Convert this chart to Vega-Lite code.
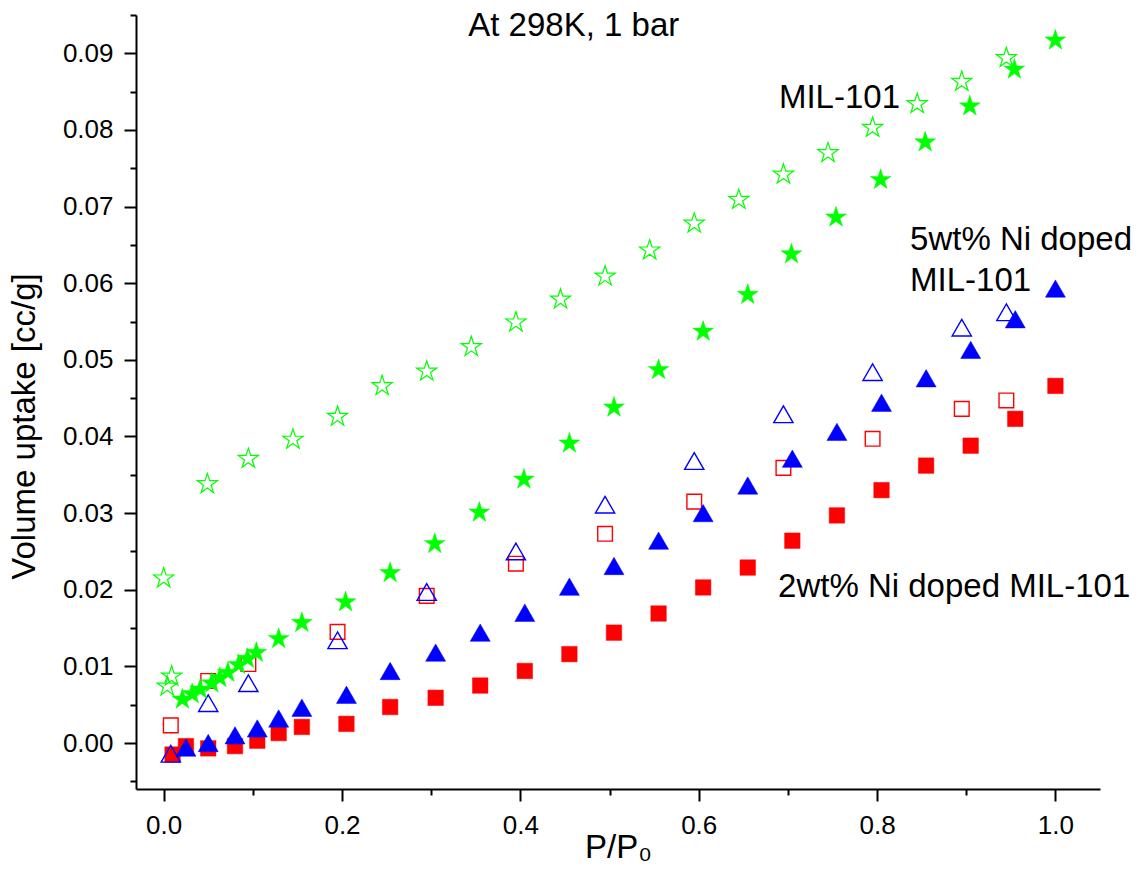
{
  "$schema": "https://vega.github.io/schema/vega-lite/v6.json",
  "width": 964,
  "height": 774,
  "autosize": {"type": "none"},
  "padding": {"left": 136, "top": 15, "right": 42, "bottom": 80},
  "background": "white",
  "config": {"view": {"stroke": null}, "font": "Liberation Sans"},
  "datasets": {
    "isotherms": [
      {"p": 0.010, "v": -0.0015, "s": "Ni2 adsorption"},
      {"p": 0.025, "v": -0.0004, "s": "Ni2 adsorption"},
      {"p": 0.050, "v": -0.0007, "s": "Ni2 adsorption"},
      {"p": 0.080, "v": -0.0004, "s": "Ni2 adsorption"},
      {"p": 0.105, "v": 0.0003, "s": "Ni2 adsorption"},
      {"p": 0.129, "v": 0.0013, "s": "Ni2 adsorption"},
      {"p": 0.155, "v": 0.0021, "s": "Ni2 adsorption"},
      {"p": 0.205, "v": 0.0025, "s": "Ni2 adsorption"},
      {"p": 0.254, "v": 0.0047, "s": "Ni2 adsorption"},
      {"p": 0.305, "v": 0.0059, "s": "Ni2 adsorption"},
      {"p": 0.355, "v": 0.0075, "s": "Ni2 adsorption"},
      {"p": 0.405, "v": 0.0094, "s": "Ni2 adsorption"},
      {"p": 0.455, "v": 0.0116, "s": "Ni2 adsorption"},
      {"p": 0.505, "v": 0.0144, "s": "Ni2 adsorption"},
      {"p": 0.555, "v": 0.0169, "s": "Ni2 adsorption"},
      {"p": 0.605, "v": 0.0203, "s": "Ni2 adsorption"},
      {"p": 0.655, "v": 0.0229, "s": "Ni2 adsorption"},
      {"p": 0.705, "v": 0.0264, "s": "Ni2 adsorption"},
      {"p": 0.755, "v": 0.0297, "s": "Ni2 adsorption"},
      {"p": 0.805, "v": 0.0330, "s": "Ni2 adsorption"},
      {"p": 0.855, "v": 0.0362, "s": "Ni2 adsorption"},
      {"p": 0.905, "v": 0.0388, "s": "Ni2 adsorption"},
      {"p": 0.955, "v": 0.0423, "s": "Ni2 adsorption"},
      {"p": 1.000, "v": 0.0466, "s": "Ni2 adsorption"},

      {"p": 0.008, "v": 0.0023, "s": "Ni2 desorption"},
      {"p": 0.050, "v": 0.0081, "s": "Ni2 desorption"},
      {"p": 0.095, "v": 0.0103, "s": "Ni2 desorption"},
      {"p": 0.195, "v": 0.0145, "s": "Ni2 desorption"},
      {"p": 0.295, "v": 0.0192, "s": "Ni2 desorption"},
      {"p": 0.395, "v": 0.0234, "s": "Ni2 desorption"},
      {"p": 0.495, "v": 0.0273, "s": "Ni2 desorption"},
      {"p": 0.595, "v": 0.0315, "s": "Ni2 desorption"},
      {"p": 0.695, "v": 0.0359, "s": "Ni2 desorption"},
      {"p": 0.795, "v": 0.0397, "s": "Ni2 desorption"},
      {"p": 0.895, "v": 0.0436, "s": "Ni2 desorption"},
      {"p": 0.945, "v": 0.0447, "s": "Ni2 desorption"},

      {"p": 0.025, "v": -0.0006, "s": "Ni5 adsorption"},
      {"p": 0.050, "v": 0.0000, "s": "Ni5 adsorption"},
      {"p": 0.080, "v": 0.0010, "s": "Ni5 adsorption"},
      {"p": 0.105, "v": 0.0019, "s": "Ni5 adsorption"},
      {"p": 0.129, "v": 0.0032, "s": "Ni5 adsorption"},
      {"p": 0.155, "v": 0.0046, "s": "Ni5 adsorption"},
      {"p": 0.205, "v": 0.0063, "s": "Ni5 adsorption"},
      {"p": 0.254, "v": 0.0094, "s": "Ni5 adsorption"},
      {"p": 0.305, "v": 0.0118, "s": "Ni5 adsorption"},
      {"p": 0.355, "v": 0.0144, "s": "Ni5 adsorption"},
      {"p": 0.405, "v": 0.0170, "s": "Ni5 adsorption"},
      {"p": 0.455, "v": 0.0204, "s": "Ni5 adsorption"},
      {"p": 0.505, "v": 0.0231, "s": "Ni5 adsorption"},
      {"p": 0.555, "v": 0.0264, "s": "Ni5 adsorption"},
      {"p": 0.605, "v": 0.0300, "s": "Ni5 adsorption"},
      {"p": 0.655, "v": 0.0336, "s": "Ni5 adsorption"},
      {"p": 0.705, "v": 0.0371, "s": "Ni5 adsorption"},
      {"p": 0.755, "v": 0.0406, "s": "Ni5 adsorption"},
      {"p": 0.805, "v": 0.0444, "s": "Ni5 adsorption"},
      {"p": 0.855, "v": 0.0476, "s": "Ni5 adsorption"},
      {"p": 0.905, "v": 0.0513, "s": "Ni5 adsorption"},
      {"p": 0.955, "v": 0.0553, "s": "Ni5 adsorption"},
      {"p": 1.000, "v": 0.0593, "s": "Ni5 adsorption"},

      {"p": 0.008, "v": -0.0014, "s": "Ni5 desorption"},
      {"p": 0.050, "v": 0.0052, "s": "Ni5 desorption"},
      {"p": 0.095, "v": 0.0078, "s": "Ni5 desorption"},
      {"p": 0.195, "v": 0.0134, "s": "Ni5 desorption"},
      {"p": 0.295, "v": 0.0197, "s": "Ni5 desorption"},
      {"p": 0.395, "v": 0.0250, "s": "Ni5 desorption"},
      {"p": 0.495, "v": 0.0311, "s": "Ni5 desorption"},
      {"p": 0.595, "v": 0.0368, "s": "Ni5 desorption"},
      {"p": 0.695, "v": 0.0429, "s": "Ni5 desorption"},
      {"p": 0.795, "v": 0.0484, "s": "Ni5 desorption"},
      {"p": 0.895, "v": 0.0542, "s": "Ni5 desorption"},
      {"p": 0.945, "v": 0.0562, "s": "Ni5 desorption"},

      {"p": 0.000, "v": 0.0215, "s": "MIL-101 desorption"},
      {"p": 0.009, "v": 0.0087, "s": "MIL-101 desorption"},
      {"p": 0.004, "v": 0.0074, "s": "MIL-101 desorption"},
      {"p": 0.049, "v": 0.0338, "s": "MIL-101 desorption"},
      {"p": 0.095, "v": 0.0371, "s": "MIL-101 desorption"},
      {"p": 0.145, "v": 0.0396, "s": "MIL-101 desorption"},
      {"p": 0.195, "v": 0.0426, "s": "MIL-101 desorption"},
      {"p": 0.245, "v": 0.0466, "s": "MIL-101 desorption"},
      {"p": 0.295, "v": 0.0485, "s": "MIL-101 desorption"},
      {"p": 0.345, "v": 0.0517, "s": "MIL-101 desorption"},
      {"p": 0.395, "v": 0.0549, "s": "MIL-101 desorption"},
      {"p": 0.445, "v": 0.0579, "s": "MIL-101 desorption"},
      {"p": 0.495, "v": 0.0609, "s": "MIL-101 desorption"},
      {"p": 0.545, "v": 0.0643, "s": "MIL-101 desorption"},
      {"p": 0.595, "v": 0.0678, "s": "MIL-101 desorption"},
      {"p": 0.645, "v": 0.0709, "s": "MIL-101 desorption"},
      {"p": 0.695, "v": 0.0742, "s": "MIL-101 desorption"},
      {"p": 0.745, "v": 0.0770, "s": "MIL-101 desorption"},
      {"p": 0.795, "v": 0.0803, "s": "MIL-101 desorption"},
      {"p": 0.845, "v": 0.0834, "s": "MIL-101 desorption"},
      {"p": 0.895, "v": 0.0863, "s": "MIL-101 desorption"},
      {"p": 0.945, "v": 0.0894, "s": "MIL-101 desorption"},

      {"p": 0.021, "v": 0.0057, "s": "MIL-101 adsorption"},
      {"p": 0.032, "v": 0.0064, "s": "MIL-101 adsorption"},
      {"p": 0.041, "v": 0.0070, "s": "MIL-101 adsorption"},
      {"p": 0.054, "v": 0.0078, "s": "MIL-101 adsorption"},
      {"p": 0.063, "v": 0.0085, "s": "MIL-101 adsorption"},
      {"p": 0.072, "v": 0.0092, "s": "MIL-101 adsorption"},
      {"p": 0.084, "v": 0.0102, "s": "MIL-101 adsorption"},
      {"p": 0.094, "v": 0.0110, "s": "MIL-101 adsorption"},
      {"p": 0.104, "v": 0.0118, "s": "MIL-101 adsorption"},
      {"p": 0.129, "v": 0.0136, "s": "MIL-101 adsorption"},
      {"p": 0.155, "v": 0.0157, "s": "MIL-101 adsorption"},
      {"p": 0.204, "v": 0.0184, "s": "MIL-101 adsorption"},
      {"p": 0.254, "v": 0.0222, "s": "MIL-101 adsorption"},
      {"p": 0.304, "v": 0.0260, "s": "MIL-101 adsorption"},
      {"p": 0.354, "v": 0.0301, "s": "MIL-101 adsorption"},
      {"p": 0.404, "v": 0.0344, "s": "MIL-101 adsorption"},
      {"p": 0.455, "v": 0.0391, "s": "MIL-101 adsorption"},
      {"p": 0.505, "v": 0.0438, "s": "MIL-101 adsorption"},
      {"p": 0.555, "v": 0.0487, "s": "MIL-101 adsorption"},
      {"p": 0.605, "v": 0.0537, "s": "MIL-101 adsorption"},
      {"p": 0.655, "v": 0.0585, "s": "MIL-101 adsorption"},
      {"p": 0.704, "v": 0.0638, "s": "MIL-101 adsorption"},
      {"p": 0.754, "v": 0.0686, "s": "MIL-101 adsorption"},
      {"p": 0.804, "v": 0.0735, "s": "MIL-101 adsorption"},
      {"p": 0.854, "v": 0.0784, "s": "MIL-101 adsorption"},
      {"p": 0.904, "v": 0.0831, "s": "MIL-101 adsorption"},
      {"p": 0.954, "v": 0.0879, "s": "MIL-101 adsorption"},
      {"p": 1.000, "v": 0.0917, "s": "MIL-101 adsorption"}
    ],
    "notes": [
      {"p": 0.3416, "v": 0.0922, "label": "At 298K, 1 bar"},
      {"p": 0.690, "v": 0.0829, "label": "MIL-101"},
      {"p": 0.837, "v": 0.0643, "label": "5wt% Ni doped"},
      {"p": 0.837, "v": 0.0590, "label": "MIL-101"},
      {"p": 0.689, "v": 0.0190, "label": "2wt% Ni doped MIL-101"}
    ]
  },
  "encoding": {
    "x": {
      "field": "p",
      "type": "quantitative",
      "scale": {"domain": [-0.031, 1.05], "nice": false, "zero": false},
      "axis": {
        "title": "P/P₀",
        "values": [0, 0.1, 0.2, 0.3, 0.4, 0.5, 0.6, 0.7, 0.8, 0.9, 1.0],
        "labelExpr": "abs(datum.value*5 - round(datum.value*5)) < 0.01 ? format(datum.value, '.1f') : ''",
        "tickSize": {"condition": {"test": "abs(datum.value*5 - round(datum.value*5)) < 0.01", "value": 12}, "value": 6},
        "tickWidth": 2,
        "tickColor": "black",
        "domainWidth": 2,
        "domainColor": "black",
        "grid": false,
        "labelFont": "Liberation Sans",
        "labelFontSize": 26,
        "labelColor": "black",
        "labelPadding": 11,
        "labelOverlap": false,
        "labelFlush": false,
        "labelBound": false,
        "titleFont": "Liberation Sans",
        "titleFontSize": 33,
        "titleFontWeight": "normal",
        "titleColor": "black",
        "titleBaseline": "alphabetic",
        "titleY": 68
      }
    },
    "y": {
      "field": "v",
      "type": "quantitative",
      "scale": {"domain": [-0.006, 0.095], "nice": false, "zero": false},
      "axis": {
        "title": "Volume uptake [cc/g]",
        "values": [-0.005, 0, 0.005, 0.01, 0.015, 0.02, 0.025, 0.03, 0.035, 0.04, 0.045, 0.05, 0.055, 0.06, 0.065, 0.07, 0.075, 0.08, 0.085, 0.09, 0.095],
        "labelExpr": "abs(datum.value*100 - round(datum.value*100)) < 0.01 ? format(datum.value, '.2f') : ''",
        "tickSize": {"condition": {"test": "abs(datum.value*100 - round(datum.value*100)) < 0.01", "value": 12}, "value": 6},
        "tickWidth": 2,
        "tickColor": "black",
        "domainWidth": 2,
        "domainColor": "black",
        "grid": false,
        "labelFont": "Liberation Sans",
        "labelFontSize": 26,
        "labelColor": "black",
        "labelPadding": 11,
        "labelOverlap": false,
        "labelFlush": false,
        "labelBound": false,
        "titleFont": "Liberation Sans",
        "titleFontSize": 33,
        "titleFontWeight": "normal",
        "titleColor": "black",
        "titleBaseline": "alphabetic",
        "titleX": -102,
        "titleY": 411
      }
    }
  },
  "layer": [
    {
      "data": {"name": "isotherms"},
      "transform": [{"filter": "datum.s === 'Ni2 adsorption'"}],
      "mark": {"type": "point", "shape": "square", "filled": true, "opacity": 1, "fill": "#ff0000", "stroke": "#ff0000", "strokeWidth": 0.5, "size": 240}
    },
    {
      "data": {"name": "isotherms"},
      "transform": [{"filter": "datum.s === 'Ni2 desorption'"}],
      "mark": {"type": "point", "shape": "square", "filled": false, "opacity": 1, "fill": "transparent", "stroke": "#ff0000", "strokeWidth": 1.4, "size": 215}
    },
    {
      "data": {"name": "isotherms"},
      "transform": [{"filter": "datum.s === 'Ni5 adsorption'"}],
      "mark": {"type": "point", "shape": "triangle-up", "filled": true, "opacity": 1, "fill": "#0000ff", "stroke": "#0000ff", "strokeWidth": 0.5, "size": 400}
    },
    {
      "data": {"name": "isotherms"},
      "transform": [{"filter": "datum.s === 'Ni5 desorption'"}],
      "mark": {"type": "point", "shape": "triangle-up", "filled": false, "opacity": 1, "fill": "transparent", "stroke": "#0000ff", "strokeWidth": 1.4, "size": 370}
    },
    {
      "data": {"name": "isotherms"},
      "transform": [{"filter": "datum.s === 'MIL-101 desorption'"}],
      "mark": {"type": "point", "filled": false, "opacity": 1, "fill": "transparent", "stroke": "#00ff00", "strokeWidth": 1.2, "size": 450,
        "shape": "M0,-1L0.2245,-0.309L0.9511,-0.309L0.3633,0.118L0.5878,0.809L0,0.382L-0.5878,0.809L-0.3633,0.118L-0.9511,-0.309L-0.2245,-0.309Z"}
    },
    {
      "data": {"name": "isotherms"},
      "transform": [{"filter": "datum.s === 'MIL-101 adsorption'"}],
      "mark": {"type": "point", "filled": true, "opacity": 1, "fill": "#00ff00", "stroke": "#00ff00", "strokeWidth": 0.5, "size": 480,
        "shape": "M0,-1L0.2245,-0.309L0.9511,-0.309L0.3633,0.118L0.5878,0.809L0,0.382L-0.5878,0.809L-0.3633,0.118L-0.9511,-0.309L-0.2245,-0.309Z"}
    },
    {
      "data": {"name": "notes"},
      "mark": {"type": "text", "font": "Liberation Sans", "fontSize": 33, "align": "left", "baseline": "alphabetic", "color": "black"},
      "encoding": {
        "text": {"field": "label", "type": "nominal"}
      }
    }
  ]
}
